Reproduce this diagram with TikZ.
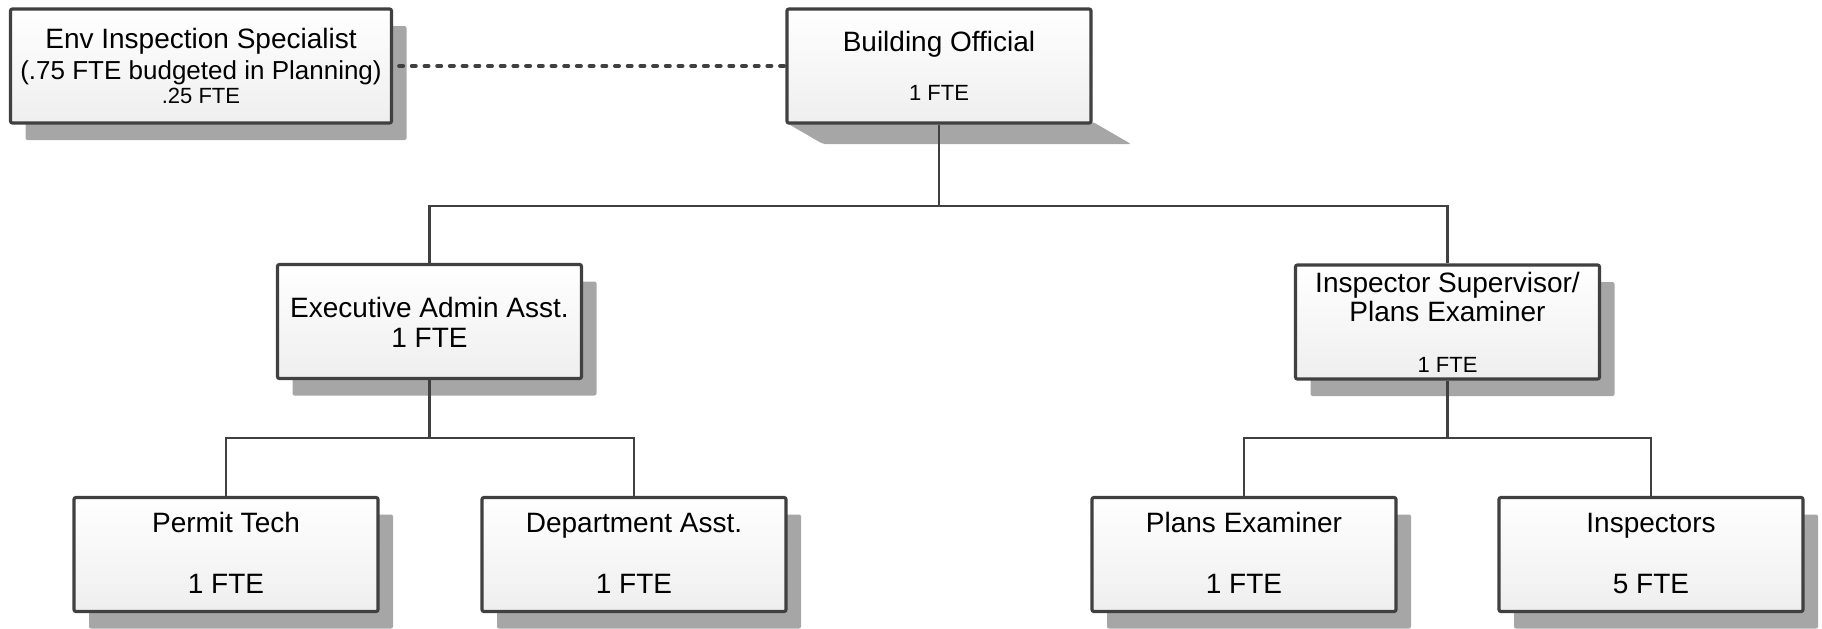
\documentclass[tikz,border=0pt]{standalone}
\usepackage{fontspec}
\setmainfont{Liberation Sans}
\usetikzlibrary{shadows}
\pgfdeclarelayer{background}
\pgfsetlayers{background,main}
\definecolor{bordergray}{HTML}{404040}
\definecolor{shadowgray}{HTML}{A6A6A6}
\definecolor{linegray}{HTML}{404040}
\tikzset{
  orgbox/.style={draw=bordergray, line width=1.6pt, rounded corners=1pt,
    top color=white, bottom color=gray!13, inner sep=0pt,
    minimum width=152pt, minimum height=57pt},
  shadowed/.style={general shadow={fill=shadowgray, shadow xshift=7.5pt, shadow yshift=-8.5pt}},
  big/.style={font=\fontsize{14}{16}\selectfont, anchor=base, inner sep=0pt},
  mid/.style={font=\fontsize{13}{15}\selectfont, anchor=base, inner sep=0pt},
  small/.style={font=\fontsize{11}{13}\selectfont, anchor=base, inner sep=0pt},
  conn/.style={draw=linegray, line width=1.3pt},
  dashconn/.style={draw=linegray, line width=2pt, line cap=round, dash pattern=on 2pt off 4.35pt}
}
\begin{document}
\begin{tikzpicture}[x=0.5pt, y=-0.5pt]
\useasboundingbox (0,0) rectangle (1822,628);

% Env Inspection Specialist
\node[orgbox, shadowed, minimum width=190.5pt] (env) at (201,66) {};
\node[big] (envt1) at (201,48) {Env Inspection Specialist};
\node[mid] (envt2) at (201,79) {(.75 FTE budgeted in Planning)};
\node[small] (envt3) at (201,103) {.25 FTE};

% Building Official
\node[orgbox] (bo) at (939,66) {};
\begin{pgfonlayer}{background}
  \fill[shadowgray, rounded corners=1pt] (785,122) -- (1093,122) -- (1131,144) -- (823,144) -- cycle;
\end{pgfonlayer}
\node[big] (bot1) at (939,51) {Building Official};
\node[small] (bot2) at (939,100) {1 FTE};

% Executive Admin Asst.
\node[orgbox, shadowed] (ea) at (429.5,321.5) {};
\node[big] (eat1) at (429.5,317) {Executive Admin Asst.};
\node[big] (eat2) at (429.5,347) {1 FTE};

% Inspector Supervisor
\node[orgbox, shadowed] (is) at (1447.5,322) {};
\node[big] (ist1) at (1447.5,292) {Inspector Supervisor/};
\node[big] (ist2) at (1447.5,321) {Plans Examiner};
\node[small] (ist3) at (1447.5,372) {1 FTE};

% Bottom row
\node[orgbox, shadowed] (pt) at (226,554.5) {};
\node[big] (ptt1) at (226,532) {Permit Tech};
\node[big] (ptt2) at (226,593) {1 FTE};

\node[orgbox, shadowed] (da) at (634,554.5) {};
\node[big] (dat1) at (634,532) {Department Asst.};
\node[big] (dat2) at (634,593) {1 FTE};

\node[orgbox, shadowed] (pe) at (1244,554.5) {};
\node[big] (pet1) at (1244,532) {Plans Examiner};
\node[big] (pet2) at (1244,593) {1 FTE};

\node[orgbox, shadowed] (in) at (1651,554.5) {};
\node[big] (int1) at (1651,532) {Inspectors};
\node[big] (int2) at (1651,593) {5 FTE};

% connectors
\coordinate (j1) at (939,206);
\coordinate (j2) at (429.5,438);
\coordinate (j3) at (1447.5,438);
\draw[conn] (bo.south) -- (j1);
\draw[conn] (j1) -| (ea.north);
\draw[conn] (j1) -| (is.north);
\draw[conn] (ea.south) -- (j2);
\draw[conn] (j2) -| (pt.north);
\draw[conn] (j2) -| (da.north);
\draw[conn] (is.south) -- (j3);
\draw[conn] (j3) -| (pe.north);
\draw[conn] (j3) -| (in.north);
\draw[dashconn] ([xshift=3pt]env.east) -- (bo.west);
\end{tikzpicture}
\end{document}
